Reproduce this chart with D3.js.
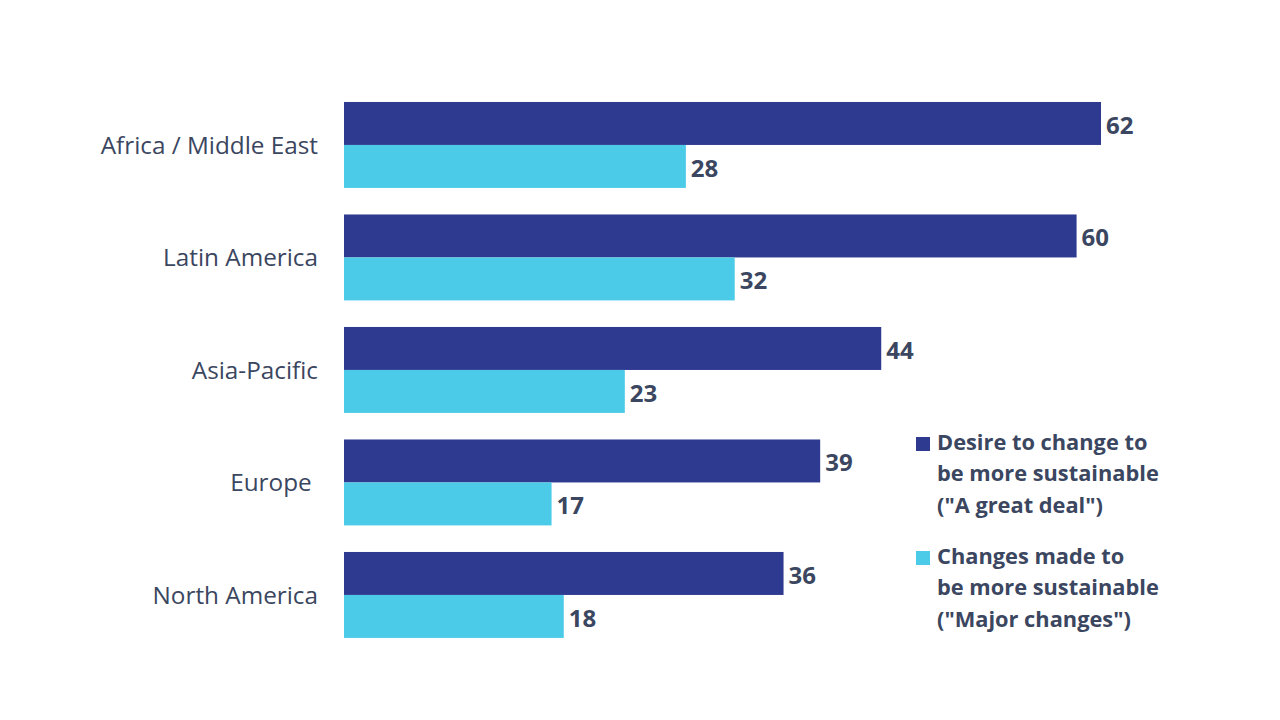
<!DOCTYPE html>
<html><head><meta charset="utf-8">
<script src="https://cdn.jsdelivr.net/npm/d3@7"></script>
<style>body{margin:0;background:#fff}svg{display:block}</style>
</head><body>
<svg id="c" width="1280" height="720"></svg>
<script>
const categories = ["Africa / Middle East","Latin America","Asia-Pacific","Europe ","North America"];
const desire = [62,60,44,39,36];
const changes = [28,32,23,17,18];
const seriesNames = [["Desire to change to","be more sustainable","(\"A great deal\")"],["Changes made to","be more sustainable","(\"Major changes\")"]];
const colors = ["#2e3990","#4ccbe8"];
const textColor = "#3b4660";
const font = "'Open Sans', 'Noto Sans', sans-serif";

const svg = d3.select("#c");
const x = d3.scaleLinear().domain([0,62]).range([344,1101]);
const y = d3.scaleBand().domain(categories).range([88.7,651.2]).paddingInner(0.236).paddingOuter(0.118);
const sub = d3.scaleBand().domain([0,1]).range([0,y.bandwidth()]);

const series=[desire,changes];
const g = svg.append("g");
series.forEach((vals,si)=>{
  g.selectAll(".b"+si).data(categories).enter().append("rect")
   .attr("x",x(0)).attr("y",d=>y(d)+sub(si))
   .attr("width",(d,i)=>x(vals[i])-x(0)).attr("height",sub.bandwidth())
   .attr("fill",colors[si]);
  g.selectAll(".t"+si).data(categories).enter().append("text")
   .attr("x",(d,i)=>x(vals[i])+5).attr("y",d=>y(d)+sub(si)+sub.bandwidth()/2)
   .attr("dy","0.42em").attr("font-family",font).attr("font-weight","bold")
   .attr("font-size",24).attr("fill",textColor).text((d,i)=>vals[i]);
});
const ax = svg.append("g").attr("transform","translate(318,0)")
 .call(d3.axisLeft(y).tickSize(0).tickPadding(0));
ax.select(".domain").remove();
ax.selectAll("text").attr("font-family",font).attr("font-size",24.3).attr("fill",textColor).attr("dy","0.36em").style("white-space","pre");

const leg = svg.append("g");
const legY=[442,556];
seriesNames.forEach((lines,si)=>{
  leg.append("rect").attr("x",916).attr("y",legY[si]-5).attr("width",14).attr("height",14).attr("fill",colors[si]);
  lines.forEach((l,li)=>{
    leg.append("text").attr("x",937).attr("y",legY[si]+li*31.5).attr("dy","0.36em")
     .attr("font-family",font).attr("font-weight","bold").attr("font-size",21.8).attr("fill",textColor).text(l);
  });
});
</script>
</body></html>
